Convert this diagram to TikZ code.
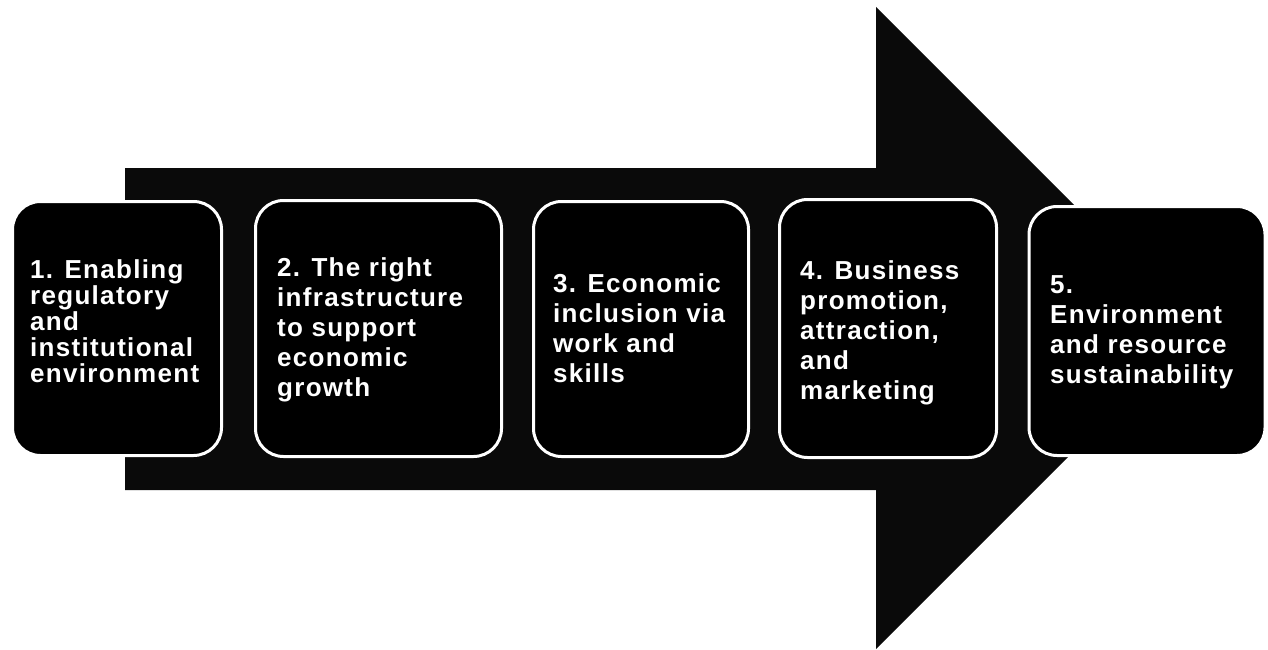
\documentclass[tikz,border=0pt]{standalone}
\usepackage{fontspec}
\newfontfamily\boxfont{Liberation Sans}[LetterSpace=5]
\begin{document}
\begin{tikzpicture}[x=1pt,y=-1pt,
  stepbox/.style={draw=white, line width=3pt, fill=black, rounded corners=28pt,
    inner sep=0pt, outer sep=0pt},
  boxtext/.style={text=white, align=left, inner sep=0pt, anchor=north west,
    font=\boxfont\bfseries\fontsize{26}{30}\selectfont},
  boxtexttight/.style={boxtext, font=\boxfont\bfseries\fontsize{26}{26.2}\selectfont}]
\fill[white] (0,0) rectangle (1268,650);
\useasboundingbox (0,0) rectangle (1268,650);
% big arrow
\fill[black!96] (125,168) -- (876,168) -- (876,7) -- (1197,328) -- (876,649)
  -- (876,490) -- (125,490) -- cycle;
% boxes
\node[stepbox, minimum width=209pt, minimum height=254pt] (b1) at (117,328.5) {};
\node[stepbox, minimum width=246pt, minimum height=256pt] (b2) at (378.5,328.5) {};
\node[stepbox, minimum width=215pt, minimum height=255pt] (b3) at (641,329) {};
\node[stepbox, minimum width=217pt, minimum height=258pt] (b4) at (888,328.5) {};
\node[stepbox, minimum width=236pt, minimum height=249pt] (b5) at (1147,331) {};
% texts
\node[boxtexttight] (t1) at (30,259) {1. Enabling\\regulatory\\and\\institutional\\environment};
\node[boxtext] (t2) at (277,257) {2. The right\\infrastructure\\to support\\economic\\growth};
\node[boxtext] (t3) at (553,273) {3. Economic\\inclusion via\\work and\\skills};
\node[boxtext] (t4) at (800,260) {4. Business\\promotion,\\attraction,\\and\\marketing};
\node[boxtext] (t5) at (1050,275) {5.\\Environment\\and resource\\sustainability};
\end{tikzpicture}
\end{document}
